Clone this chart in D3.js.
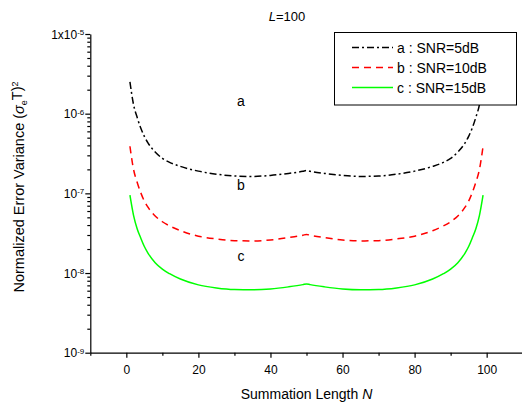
<!DOCTYPE html>
<html>
<head>
<meta charset="utf-8">
<script src="https://cdn.jsdelivr.net/npm/d3@7"></script>
<style>
  body { margin: 0; background: #fff; }
  svg { display: block; font-family: "Liberation Sans", Arial, sans-serif; }
</style>
</head>
<body>
<div id="containerDiv"></div>
<script>
// summation length N
var nValues = [1, 2, 3, 4, 5, 6, 8, 10, 12, 15, 20, 25, 30, 35, 40, 45, 49, 50, 51, 55, 60, 65, 70, 75, 80, 85, 88, 90, 92, 94, 95, 96, 97, 98, 99];

// a : SNR=5dB
var snr5 = [2.5e-6, 1.3e-6, 9.0e-7, 6.6e-7, 5.2e-7, 4.3e-7, 3.3e-7, 2.75e-7, 2.45e-7, 2.18e-7, 1.9e-7, 1.74e-7, 1.65e-7, 1.63e-7, 1.68e-7, 1.78e-7, 1.89e-7, 1.93e-7, 1.89e-7,
            1.78e-7, 1.68e-7, 1.63e-7, 1.65e-7, 1.74e-7, 1.9e-7, 2.18e-7, 2.45e-7, 2.75e-7, 3.3e-7, 4.3e-7, 5.2e-7, 6.6e-7, 9.0e-7, 1.3e-6, 2.5e-6];

// b : SNR=10dB
var snr10 = [3.9e-7, 2.0e-7, 1.38e-7, 1.02e-7, 8.0e-8, 6.7e-8, 5.2e-8, 4.4e-8, 3.9e-8, 3.4e-8, 2.9e-8, 2.68e-8, 2.55e-8, 2.53e-8, 2.6e-8, 2.78e-8, 2.98e-8, 3.05e-8, 2.98e-8,
             2.78e-8, 2.6e-8, 2.53e-8, 2.55e-8, 2.68e-8, 2.9e-8, 3.4e-8, 3.9e-8, 4.4e-8, 5.2e-8, 6.7e-8, 8.0e-8, 1.02e-7, 1.38e-7, 2.0e-7, 3.9e-7];

// c : SNR=15dB
var snr15 = [9.5e-8, 5.3e-8, 3.6e-8, 2.75e-8, 2.15e-8, 1.78e-8, 1.35e-8, 1.12e-8, 9.8e-9, 8.4e-9, 7.1e-9, 6.5e-9, 6.2e-9, 6.15e-9, 6.3e-9, 6.7e-9, 7.15e-9, 7.3e-9, 7.15e-9,
             6.7e-9, 6.3e-9, 6.15e-9, 6.2e-9, 6.5e-9, 7.1e-9, 8.4e-9, 9.8e-9, 1.12e-8, 1.35e-8, 1.78e-8, 2.15e-8, 2.75e-8, 3.6e-8, 5.3e-8, 9.5e-8];

var xTicks = [0, 20, 40, 60, 80, 100];
var xMinorTicks = [-10, 10, 30, 50, 70, 90, 110];
var yExponents = [-9, -8, -7, -6, -5];

var seriesNames = ["a : SNR=5dB", "b : SNR=10dB", "c : SNR=15dB"];
var curveLabels = ["a", "b", "c"];

var w = 522;
var h = 404;

var svg = d3.select("#containerDiv")
            .append("svg")
            .attr("width", w)
            .attr("height", h);

var x = d3.scaleLinear().domain([-10, 110]).range([90.3, 522.7]);
var y = d3.scaleLog().domain([1e-9, 1e-5]).range([352.7, 34]);

//minor ticks on log axis
var yMinor = [];
yExponents.slice(0, -1).forEach(function(e) {
  for (var k = 2; k <= 9; k++) yMinor.push(k * Math.pow(10, e));
});

var yAxisMinor = svg.append("g")
   .attr("transform", "translate(90.3,0)")
   .call(d3.axisLeft(y).tickValues(yMinor).tickSize(3).tickFormat(""));
yAxisMinor.select(".domain").remove();

var yAxis = svg.append("g")
   .attr("transform", "translate(90.3,0)")
   .call(d3.axisLeft(y).tickValues(yExponents.map(function(e) { return Math.pow(10, e); }))
         .tickSize(5).tickSizeOuter(0).tickFormat(""));

yAxis.selectAll(".tick").each(function(d) {
  var e = Math.round(Math.log10(d));
  var t = d3.select(this).append("text")
     .attr("x", -6)
     .attr("dy", "0.35em")
     .attr("text-anchor", "end")
     .attr("fill", "#000")
     .attr("font-size", "12px");
  t.append("tspan").text(e === -5 ? "1x10" : "10");
  t.append("tspan").attr("dy", "-0.45em").attr("font-size", "8px").text(e);
});

var xAxisMinor = svg.append("g")
   .attr("transform", "translate(0,352.7)")
   .call(d3.axisBottom(x).tickValues(xMinorTicks).tickSize(3).tickFormat(""));
xAxisMinor.select(".domain").remove();

var xAxis = svg.append("g")
   .attr("transform", "translate(0,352.7)")
   .call(d3.axisBottom(x).tickValues(xTicks).tickSize(5).tickSizeOuter(0));
xAxis.selectAll("text").attr("font-size", "12px").attr("dy", "1.1em").attr("font-family", "inherit");

svg.selectAll(".domain, .tick line").attr("stroke", "#000").attr("stroke-width", 1.2);

var line = d3.line()
   .x(function(d) { return x(d[0]); })
   .y(function(d) { return y(d[1]); })
   .curve(d3.curveMonotoneX);

var styles = [
  { color: "#000000", dash: "7,3,2,3" },
  { color: "#ff0000", dash: "7,5" },
  { color: "#00ff00", dash: null }
];
var allSeries = [snr5, snr10, snr15];

allSeries.forEach(function(vals, i) {
  svg.append("path")
     .datum(nValues.map(function(n, j) { return [n, vals[j]]; }))
     .attr("d", line)
     .attr("fill", "none")
     .attr("stroke", styles[i].color)
     .attr("stroke-width", 1.5)
     .attr("stroke-dasharray", styles[i].dash);
});

//curve labels
svg.selectAll(".clabel")
   .data(curveLabels)
   .enter()
   .append("text")
   .attr("x", 241)
   .attr("y", function(d, i) { return [106, 190, 261][i]; })
   .attr("text-anchor", "middle")
   .attr("font-size", "14px")
   .text(function(d) { return d; });

//legend
var legend = svg.append("g");
legend.append("rect")
   .attr("x", 334.5).attr("y", 32.5)
   .attr("width", 182).attr("height", 72.5)
   .attr("fill", "#fff").attr("stroke", "#000").attr("stroke-width", 1);

seriesNames.forEach(function(name, i) {
  var ly = 47.5 + i * 20;
  legend.append("line")
     .attr("x1", 352).attr("x2", 393)
     .attr("y1", ly).attr("y2", ly)
     .attr("stroke", styles[i].color)
     .attr("stroke-width", 1.5)
     .attr("stroke-dasharray", styles[i].dash);
  legend.append("text")
     .attr("x", 397).attr("y", ly)
     .attr("dy", "0.36em")
     .attr("font-size", "14px")
     .text(name);
});

//title
var title = svg.append("text")
   .attr("x", 287).attr("y", 21)
   .attr("text-anchor", "middle")
   .attr("font-size", "13px");
title.append("tspan").attr("font-style", "italic").text("L");
title.append("tspan").text("=100");

//x label
var xl = svg.append("text")
   .attr("x", 306.5).attr("y", 399)
   .attr("text-anchor", "middle")
   .attr("font-size", "14px");
xl.append("tspan").text("Summation Length ");
xl.append("tspan").attr("font-style", "italic").text("N");

//y label
var yl = svg.append("text")
   .attr("transform", "translate(24,187) rotate(-90)")
   .attr("text-anchor", "middle")
   .attr("font-size", "14.5px");
yl.append("tspan").text("Normalized Error Variance (");
yl.append("tspan").attr("font-style", "italic").text("\u03c3");
yl.append("tspan").attr("dy", "0.3em").attr("font-size", "9px").text("e");
yl.append("tspan").attr("dy", "-0.3em").text("T)");
yl.append("tspan").attr("dy", "-0.5em").attr("font-size", "9px").text("2");
</script>
</body>
</html>
